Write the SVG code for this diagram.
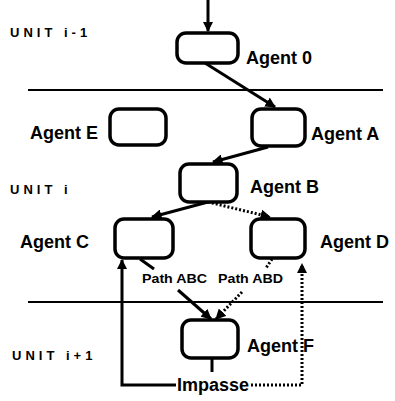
<svg xmlns="http://www.w3.org/2000/svg" width="395" height="401" viewBox="0 0 395 401">
<style>
.box{fill:#fff;stroke:#000;stroke-width:3.5}
.lbl{font-family:"Liberation Sans",Arial,sans-serif;font-weight:bold;font-size:18px;fill:#000}
.unit{font-family:"Liberation Sans",Arial,sans-serif;font-weight:bold;font-size:13px;fill:#000;letter-spacing:4px}
.path{font-family:"Liberation Sans",Arial,sans-serif;font-weight:bold;font-size:13px;fill:#000}
.sol{fill:none;stroke:#000;stroke-width:3}
.dot{fill:none;stroke:#000;stroke-width:3;stroke-dasharray:2 2}
.sep{stroke:#000;stroke-width:2.2}
</style>
<defs>
<marker id="ah" viewBox="0 0 10 10" refX="9" refY="5" markerWidth="3.5" markerHeight="3.5" orient="auto">
<path d="M0,0 L10,5 L0,10 z" fill="#000"/>
</marker>
</defs>
<g id="separators">
<line class="sep" x1="28" y1="90" x2="383" y2="90"/>
<line class="sep" x1="28" y1="302" x2="383" y2="302"/>
</g>
<g id="units">
<text class="unit" x="10" y="37">UNIT i-1</text>
<text class="unit" x="10" y="194">UNIT i</text>
<text class="unit" x="12" y="360">UNIT i+1</text>
</g>
<g id="connectors">
<line class="sol" x1="208" y1="0" x2="208" y2="31" marker-end="url(#ah)"/>
<line class="sol" x1="205" y1="63" x2="275" y2="107" marker-end="url(#ah)"/>
<line class="sol" x1="268" y1="147" x2="213" y2="162" marker-end="url(#ah)"/>
<line class="sol" x1="208" y1="202" x2="152" y2="217" marker-end="url(#ah)"/>
<line class="dot" x1="208" y1="202" x2="270" y2="217" marker-end="url(#ah)"/>
<line class="sol" x1="140" y1="259" x2="154" y2="269"/>
<line class="sol" x1="178" y1="290" x2="211" y2="319" marker-end="url(#ah)"/>
<line class="dot" x1="272" y1="259" x2="266" y2="268"/>
<line class="dot" x1="242" y1="292" x2="216" y2="319" marker-end="url(#ah)"/>
<line class="sol" x1="212" y1="358" x2="212" y2="372"/>
<polyline class="sol" points="176,385 122,385 122,260" marker-end="url(#ah)"/>
<polyline class="dot" points="251,385 302,385 302,264" marker-end="url(#ah)"/>
</g>
<g id="agent0"><rect class="box" x="177" y="33" width="61" height="30" rx="9"/><text class="lbl" x="246" y="64">Agent  0</text></g>
<g id="agentE"><rect class="box" x="110" y="109" width="56" height="36" rx="9"/><text class="lbl" x="30" y="139">Agent E</text></g>
<g id="agentA"><rect class="box" x="252" y="109" width="53" height="37" rx="9"/><text class="lbl" x="311" y="140">Agent A</text></g>
<g id="agentB"><rect class="box" x="180" y="164" width="57" height="38" rx="9"/><text class="lbl" x="250" y="193">Agent B</text></g>
<g id="agentC"><rect class="box" x="115" y="219" width="58" height="39" rx="9"/><text class="lbl" x="20" y="248">Agent C</text></g>
<g id="agentD"><rect class="box" x="251" y="219" width="54" height="39" rx="9"/><text class="lbl" x="320" y="248">Agent D</text></g>
<g id="agentF"><rect class="box" x="182" y="320" width="56" height="38" rx="9"/><text class="lbl" x="247" y="352">Agent F</text></g>
<g id="pathlabels">
<text class="path" x="142" y="283" textLength="65" lengthAdjust="spacingAndGlyphs">Path ABC</text>
<text class="path" x="218" y="283" textLength="65" lengthAdjust="spacingAndGlyphs">Path ABD</text>
</g>
<g id="impasse"><text class="lbl" x="177" y="391">Impasse</text></g>
</svg>
